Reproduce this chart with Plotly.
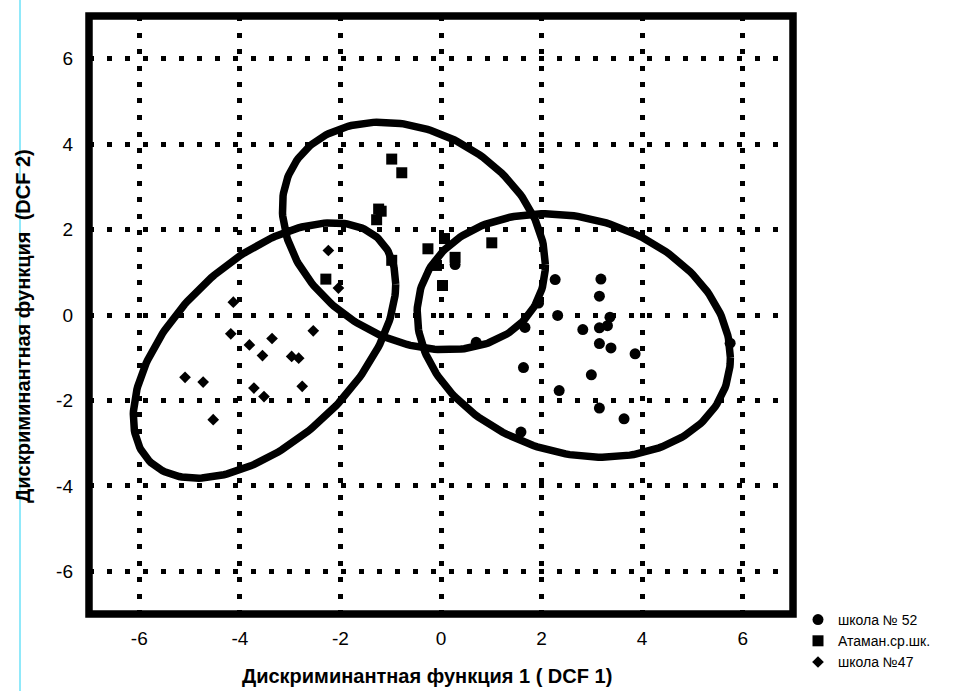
import numpy as np
import plotly.graph_objects as go

# ---- data ----
school52_x = [0.28, 2.27, 3.18, 1.94, 3.15, 2.32, 3.36, 1.67, 2.82, 3.15, 3.31, 3.15, 3.38, 3.86,
              1.64, 2.99, 2.35, 3.15, 3.64, 1.59, 5.75, 0.70]
school52_y = [1.18, 0.83, 0.84, 0.28, 0.44, -0.01, -0.05, -0.29, -0.34, -0.30, -0.25, -0.67, -0.77, -0.91,
              -1.23, -1.40, -1.77, -2.18, -2.43, -2.74, -0.66, -0.64]

ataman_x = [-0.98, -0.78, -1.24, -1.19, -1.28, -2.29, -0.98, -0.26, 0.07, -0.09, 0.03, 1.01, 0.28]
ataman_y = [3.65, 3.33, 2.48, 2.43, 2.23, 0.84, 1.28, 1.55, 1.79, 1.16, 0.69, 1.69, 1.35]

school47_x = [-2.24, -4.13, -4.18, -3.36, -3.81, -2.54, -3.55, -2.97, -2.83, -5.09, -4.73, -3.72,
              -2.76, -3.52, -4.53, -2.04]
school47_y = [1.51, 0.30, -0.44, -0.55, -0.70, -0.37, -0.95, -0.97, -1.01, -1.46, -1.57, -1.71,
              -1.67, -1.91, -2.45, 0.63]

# confidence ellipses: centre and covariance-like shape matrix
ell_cx = [2.64, -0.54, -3.51]
ell_cy = [-0.48, 1.85, -0.83]
ell_sxx = [9.70, 6.84, 6.81]
ell_syy = [8.12, 7.10, 8.94]
ell_sxy = [-1.60, -1.75, 4.06]

tick_vals = [-6, -4, -2, 0, 2, 4, 6]
tick_text = ["-6", "-4", "-2", "0", "2", "4", "6"]
series_names = ["школа № 52", "Атаман.ср.шк.", "школа №47"]
x_title = "Дискриминантная функция 1 ( DCF 1)"
y_title = "Дискриминантная функция  (DCF 2)"

FONT = "Liberation Sans, Arial, sans-serif"
NB = "\u00a0"

fig = go.Figure()
fig.add_trace(go.Scatter(x=school52_x, y=school52_y, mode="markers", name=series_names[0],
                         marker=dict(symbol="circle", size=11, color="black")))
fig.add_trace(go.Scatter(x=ataman_x, y=ataman_y, mode="markers", name=series_names[1],
                         marker=dict(symbol="square", size=11, color="black")))
fig.add_trace(go.Scatter(x=school47_x, y=school47_y, mode="markers", name=series_names[2],
                         marker=dict(symbol="diamond", size=9, color="black")))

t = np.linspace(0, 2 * np.pi, 241)
for cx, cy, sxx, syy, sxy in zip(ell_cx, ell_cy, ell_sxx, ell_syy, ell_sxy):
    L = np.linalg.cholesky(np.array([[sxx, sxy], [sxy, syy]]))
    pts = L @ np.vstack([np.cos(t), np.sin(t)])
    fig.add_trace(go.Scatter(x=cx + pts[0], y=cy + pts[1], mode="lines", showlegend=False,
                             hoverinfo="skip", line=dict(color="black", width=7.5)))

L_M, R_M, T_M, B_M = 89, 178, 16, 77
W, H = 971, 691
pw, ph = W - L_M - R_M, H - T_M - B_M

fig.update_layout(
    width=W, height=H,
    margin=dict(l=L_M, r=R_M, t=T_M, b=B_M, autoexpand=False),
    paper_bgcolor="white", plot_bgcolor="white",
    font=dict(family=FONT, size=20, color="black"),
    showlegend=True,
    legend=dict(x=(798 - L_M) / pw, y=(T_M + ph - 604) / ph, xanchor="left", yanchor="top",
                font=dict(size=14, family=FONT), bgcolor="rgba(0,0,0,0)", itemsizing="trace",
                tracegroupgap=0),
    shapes=[
        dict(type="rect", xref="paper", yref="paper", x0=0, x1=1, y0=0, y1=1,
             line=dict(color="black", width=7.5), layer="above"),
        dict(type="line", xref="paper", yref="paper", x0=(20 - L_M) / pw, x1=(20 - L_M) / pw,
             y0=-(B_M + 2) / ph, y1=1 + (T_M + 2) / ph, line=dict(color="#22d3f5", width=1)),
    ],
)
fig.update_xaxes(range=[-7, 7], tickvals=tick_vals, ticktext=tick_text, showgrid=True,
                 gridcolor="black", gridwidth=5, griddash="5px,11.5px", zeroline=False,
                 showline=False, ticks="", ticklabelstandoff=11, tickfont=dict(size=19),
                 automargin=False,
                 title=dict(text="<b>" + x_title + NB * 5 + "</b>", standoff=20,
                            font=dict(size=20)))
fig.update_yaxes(range=[-7, 7], tickvals=tick_vals, ticktext=tick_text, showgrid=True,
                 gridcolor="black", gridwidth=5, griddash="5px,13px", zeroline=False,
                 showline=False, ticks="", ticklabelstandoff=15, tickfont=dict(size=19),
                 automargin=False,
                 title=dict(text="<b>" + y_title + NB * 4 + "</b>", standoff=20,
                            font=dict(size=20)))

fig.write_html("out.html")
